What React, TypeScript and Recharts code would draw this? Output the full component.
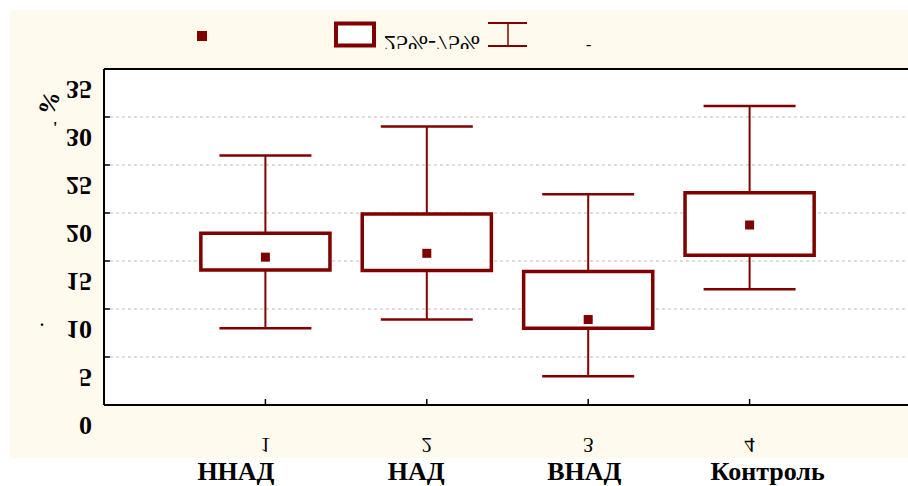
import React from "react";
import {
  CartesianGrid,
  ComposedChart,
  ReferenceArea,
  ReferenceLine,
  Scatter,
  XAxis,
  YAxis,
} from "recharts";

const categories = ["ННАД", "НАД", "ВНАД", "Контроль"];
const positions = [1, 2, 3, 4];
const means = [15.4, 15.8, 8.9, 18.75];
const q1 = [14.05, 14.0, 8.0, 15.6];
const q3 = [17.9, 19.9, 13.9, 22.1];
const lows = [8.0, 8.9, 3.0, 12.05];
const highs = [26.0, 29.0, 21.95, 31.15];
const yTicks = [0, 5, 10, 15, 20, 25, 30, 35];
const legendRange = "25%-75%";

// horizontal nudge of the category names relative to their tick
const labelShift = [-68, -39, -41, -39];

const RED = "#800000";
const SERIF = "'Liberation Serif', 'Times New Roman', serif";
const BOX_HALF = 0.4;
const CAP_HALF = 0.285;

const markers = positions.map((p, i) => ({ pos: p, mean: means[i] }));

const flip = (cy: number) => `translate(0 ${2 * cy}) scale(1 -1)`;

const YTick = (props: any) => {
  const { x, y, payload } = props;
  const cy = y + 20;
  return (
    <g>
      <line x1={x} x2={x + 6} y1={y} y2={y} stroke="#000" strokeWidth={1.5} />
      <text
        x={x - 12}
        y={cy}
        textAnchor="end"
        dominantBaseline="central"
        transform={flip(cy)}
        fontFamily={SERIF}
        fontWeight="bold"
        fontSize={26}
        fill="#000"
      >
        {payload.value}
      </text>
    </g>
  );
};

const XTick = (props: any) => {
  const { x, y, payload, index } = props;
  const cy = y + 40;
  return (
    <g>
      <line x1={x} x2={x} y1={y} y2={y - 6} stroke="#000" strokeWidth={1.5} />
      <text
        x={x}
        y={cy}
        textAnchor="middle"
        dominantBaseline="central"
        transform={flip(cy)}
        fontFamily={SERIF}
        fontSize={21}
        fill="#000"
      >
        {payload.value}
      </text>
      <text
        x={x + labelShift[index]}
        y={y + 75}
        textAnchor="start"
        fontFamily={SERIF}
        fontWeight="bold"
        fontSize={26}
        fill="#000"
      >
        {categories[index]}
      </text>
    </g>
  );
};

const MeanMark = (props: any) => {
  const { cx, cy } = props;
  return <rect x={cx - 4.5} y={cy - 4.5} width={9} height={9} fill={RED} />;
};

export default function App() {
  return (
    <div
      style={{
        position: "fixed",
        left: 0,
        top: 0,
        width: 908,
        height: 486,
        overflow: "hidden",
        background: "#fff",
      }}
    >
      <div
        style={{
          position: "absolute",
          left: 10,
          top: 10,
          width: 898,
          height: 448,
          background: "#FFF9EE",
        }}
      />
      <svg
        width={908}
        height={70}
        style={{ position: "absolute", left: 0, top: 0 }}
      >
        <defs>
          <clipPath id="legend-clip">
            <rect x={380} y={36} width={110} height={13} />
          </clipPath>
        </defs>
        <rect x={197} y={31} width={10} height={10} fill={RED} />
        <rect x={336} y={23.5} width={38} height={22} fill="#fff" stroke={RED} strokeWidth={4} />
        <g clipPath="url(#legend-clip)">
          <text
            x={384}
            y={36}
            transform={flip(36)}
            fontFamily={SERIF}
            fontSize={24}
            fill="#000"
          >
            {legendRange}
          </text>
        </g>
        <line x1={488} x2={527} y1={23} y2={23} stroke={RED} strokeWidth={2} />
        <line x1={488} x2={527} y1={46} y2={46} stroke={RED} strokeWidth={2} />
        <line x1={508} x2={508} y1={23} y2={46} stroke={RED} strokeWidth={1.5} />
        <text x={586} y={50} fontFamily={SERIF} fontSize={16} fill="#000">
          -
        </text>
      </svg>
      <svg
        width={100}
        height={400}
        style={{ position: "absolute", left: 0, top: 0 }}
      >
        <text
          x={49}
          y={103}
          textAnchor="middle"
          dominantBaseline="central"
          transform="rotate(-70 49 103)"
          fontFamily={SERIF}
          fontWeight="bold"
          fontSize={24}
          fill="#000"
        >
          %
        </text>
        <text x={53} y={133} fontFamily={SERIF} fontWeight="bold" fontSize={16} fill="#000">
          '
        </text>
        <text x={40} y={326} fontFamily={SERIF} fontWeight="bold" fontSize={16} fill="#000">
          .
        </text>
      </svg>
      <div style={{ position: "absolute", left: 0, top: 0 }}>
        <ComposedChart
          width={912}
          height={486}
          data={markers}
          margin={{ top: 69, right: 1, bottom: 0, left: 0 }}
        >
          <CartesianGrid
            horizontal
            vertical={false}
            fill="#fff"
            stroke="#bbb"
            strokeDasharray="3 3"
          />
          <XAxis
            type="number"
            dataKey="pos"
            domain={[0, 5]}
            ticks={positions}
            interval={0}
            height={81}
            tickSize={0}
            tickMargin={0}
            tickLine={false}
            axisLine={{ stroke: "#000", strokeWidth: 2 }}
            tick={<XTick />}
          />
          <YAxis
            type="number"
            domain={[0, 35]}
            ticks={yTicks}
            interval={0}
            width={104}
            tickSize={0}
            tickMargin={0}
            tickLine={false}
            axisLine={{ stroke: "#000", strokeWidth: 2 }}
            tick={<YTick />}
          />
          <ReferenceLine y={35} stroke="#000" strokeWidth={2} />
          {positions.map((p, i) => (
            <ReferenceLine
              key={`wl-${i}`}
              segment={[
                { x: p, y: lows[i] },
                { x: p, y: q1[i] },
              ]}
              stroke={RED}
              strokeWidth={2}
            />
          ))}
          {positions.map((p, i) => (
            <ReferenceLine
              key={`wh-${i}`}
              segment={[
                { x: p, y: q3[i] },
                { x: p, y: highs[i] },
              ]}
              stroke={RED}
              strokeWidth={2}
            />
          ))}
          {positions.map((p, i) => (
            <ReferenceLine
              key={`cl-${i}`}
              segment={[
                { x: p - CAP_HALF, y: lows[i] },
                { x: p + CAP_HALF, y: lows[i] },
              ]}
              stroke={RED}
              strokeWidth={2.5}
            />
          ))}
          {positions.map((p, i) => (
            <ReferenceLine
              key={`ch-${i}`}
              segment={[
                { x: p - CAP_HALF, y: highs[i] },
                { x: p + CAP_HALF, y: highs[i] },
              ]}
              stroke={RED}
              strokeWidth={2.5}
            />
          ))}
          {positions.map((p, i) => (
            <ReferenceArea
              key={`box-${i}`}
              x1={p - BOX_HALF}
              x2={p + BOX_HALF}
              y1={q1[i]}
              y2={q3[i]}
              fill="#fff"
              fillOpacity={1}
              stroke={RED}
              strokeWidth={3.5}
            />
          ))}
          <Scatter
            dataKey="mean"
            data={markers}
            fill={RED}
            shape={<MeanMark />}
            isAnimationActive={false}
          />
        </ComposedChart>
      </div>
    </div>
  );
}
